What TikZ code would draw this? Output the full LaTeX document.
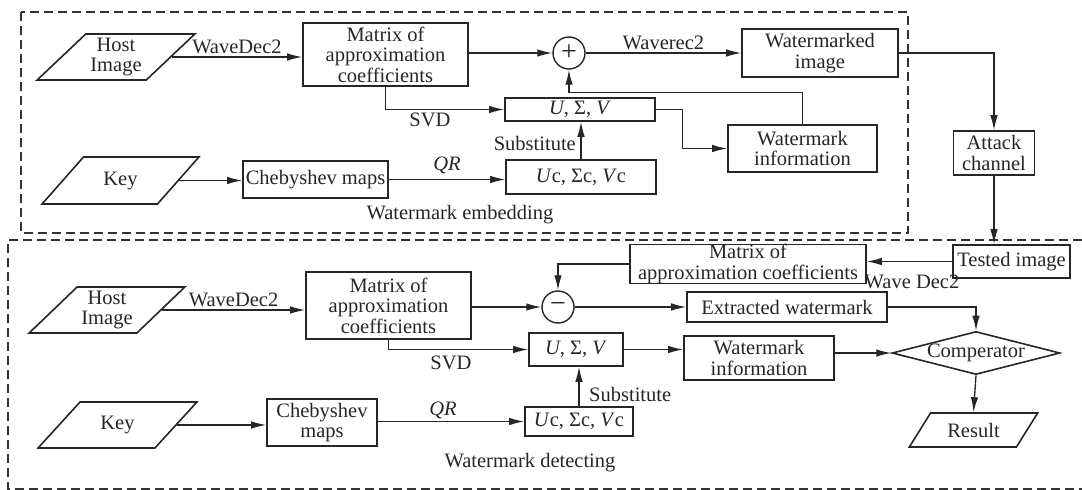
\documentclass[tikz,border=0pt]{standalone}
\usepackage{fontspec}
\setmainfont{Liberation Serif}
\usetikzlibrary{arrows.meta,shapes.geometric}
\begin{document}
\begin{tikzpicture}[x=1pt,y=-1pt,
  font=\fontsize{20.5}{20.5}\selectfont,
  every node/.style={text=black!85},
  box/.style={draw=black!85, rectangle, line width=1.6pt, inner sep=0pt, align=center},
  para/.style={draw=black!85, trapezium, trapezium left angle=43, trapezium right angle=137,
    trapezium stretches=true, line width=1.6pt, inner sep=0pt, align=center},
  circ/.style={draw=black!85, circle, line width=1.4pt, minimum size=32pt, inner sep=0pt,
    font=\fontsize{28}{28}\selectfont},
  conn/.style={draw=black!85, line width=1.3pt, -{Latex[length=15pt,width=7.5pt]}},
  lbl/.style={inner sep=1pt},
  frame/.style={draw=black!80, line width=1.6pt, dash pattern=on 9pt off 5pt}
]
\useasboundingbox (0,0) rectangle (1082,490);

% frames
\draw[frame] (21,12) rectangle (908,233);
\draw[frame] (1082,240) -- (8,240) -- (8,489) -- (1082,489);

% ---------- embedding ----------
\node[para, minimum width=158pt, minimum height=46pt] (host1) at (116,57) {Host\\Image};
\node[box, minimum width=165pt, minimum height=63pt] (mat1) at (385.5,54.5) {Matrix of\\approximation\\coefficients};
\node[circ] (plus) at (569,53) {+};
\node[box, minimum width=156pt, minimum height=48pt] (wmd) at (820,53) {Watermarked\\image};
\node[box, minimum width=81pt, minimum height=44pt] (attack) at (994,153) {Attack\\channel};
\node[box, minimum width=150pt, minimum height=23pt] (usv1) at (580,109.5) {\textit{U}, Σ, \textit{V}};
\node[box, minimum width=150pt, minimum height=34pt] (uc1) at (581,177) {\textit{U}c, Σc, \textit{V}c};
\node[box, minimum width=145pt, minimum height=37pt] (cheb1) at (315.5,179.5) {Chebyshev maps};
\node[para, minimum width=157pt, minimum height=47pt] (key1) at (120.5,180.5) {Key};
\node[box, minimum width=149pt, minimum height=47pt] (wmi1) at (802.5,148.5) {Watermark\\information};

\node[lbl] (svd1) at (430,120) {SVD};
\node[lbl] (qr1) at (447,165) {\textit{QR}};
\node[lbl, anchor=east] (sub1) at (577,143) {Substitute};
\node[lbl] (emb) at (460,215) {Watermark embedding};

\draw[conn] (host1.east) -- node[above, lbl, pos=0.5, yshift=2pt] (wd1) {WaveDec2} (host1.east -| mat1.west);
\draw[conn] (mat1.east |- plus) -- (plus.west);
\draw[conn] (plus.east) -- node[above, lbl, yshift=2pt] (wr) {Waverec2} (plus.east -| wmd.west);
\draw[conn] (wmd.east) -| (attack.north);
\draw[conn] (mat1.south) |- (usv1.west);
\draw[conn] (uc1.north) -- (uc1.north |- usv1.south);
\draw[conn] (cheb1.east) -- (cheb1.east -| uc1.west);
\draw[conn] (key1.east) -- (key1.east -| cheb1.west);
\draw[conn] (usv1.east) -- ++(27,0) |- (wmi1.west);
\draw[conn] (wmi1.north) -- ++(0,-32) -| (plus.south);

% ---------- detecting ----------
\node[box, minimum width=117pt, minimum height=33pt] (tested) at (1011.5,261.5) {Tested image};
\node[box, minimum width=236pt, minimum height=38pt] (mat2) at (748,264) {Matrix of\\approximation coefficients};
\node[circ] (minus) at (558,307) {−};
\node[para, minimum width=156pt, minimum height=46pt] (host2) at (107,310) {Host\\Image};
\node[box, minimum width=165pt, minimum height=67pt] (mat3) at (388.5,305.5) {Matrix of\\approximation\\coefficients};
\node[box, minimum width=200pt, minimum height=30pt] (extr) at (787,307) {Extracted watermark};
\node[diamond, draw=black!85, line width=1.6pt, inner sep=0pt, aspect=3.9, minimum width=157pt, minimum height=40pt] (comp) at (976,353) {Comperator};
\node[box, minimum width=150pt, minimum height=44pt] (wmi2) at (759,358) {Watermark\\information};
\node[para, trapezium left angle=48, trapezium right angle=132, minimum width=129pt, minimum height=34pt] (result) at (973.5,430) {Result};
\node[box, minimum width=94pt, minimum height=33pt] (usv2) at (576,349.5) {\textit{U}, Σ, \textit{V}};
\node[box, minimum width=108pt, minimum height=29pt] (uc2) at (579,421.5) {\textit{U}c, Σc, \textit{V}c};
\node[box, minimum width=110pt, minimum height=47pt] (cheb2) at (322,422.5) {Chebyshev\\maps};
\node[para, minimum width=159pt, minimum height=46pt] (key2) at (117.5,425) {Key};

\node[lbl] (wd3) at (912,282) {Wave Dec2};
\node[lbl] (svd2) at (451,363) {SVD};
\node[lbl] (qr2) at (443,410) {\textit{QR}};
\node[lbl, anchor=west] (sub2) at (588,394) {Substitute};
\node[lbl] (det) at (530,463) {Watermark detecting};

\draw[conn] (attack.south) -- (attack.south |- tested.north);
\draw[conn] (tested.west) -- (tested.west -| mat2.east);
\draw[conn] (mat2.west) -| (minus.north);
\draw[conn] (host2.east) -- node[above, lbl, yshift=2pt] (wd2) {WaveDec2} (host2.east -| mat3.west);
\draw[conn] (mat3.east |- minus) -- (minus.west);
\draw[conn] (minus.east) -- (extr.west);
\draw[conn] (extr.east) -| (comp.north);
\draw[conn] (wmi2.east |- comp.west) -- (comp.west);
\draw[conn] (comp.south) -- (result.north);
\draw[conn] (mat3.south) |- (usv2.west);
\draw[conn] (usv2.east) -- (usv2.east -| wmi2.west);
\draw[conn] (uc2.north) -- (uc2.north |- usv2.south);
\draw[conn] (cheb2.east |- uc2.west) -- (uc2.west);
\draw[conn] (key2.east) -- (key2.east -| cheb2.west);
\end{tikzpicture}
\end{document}
